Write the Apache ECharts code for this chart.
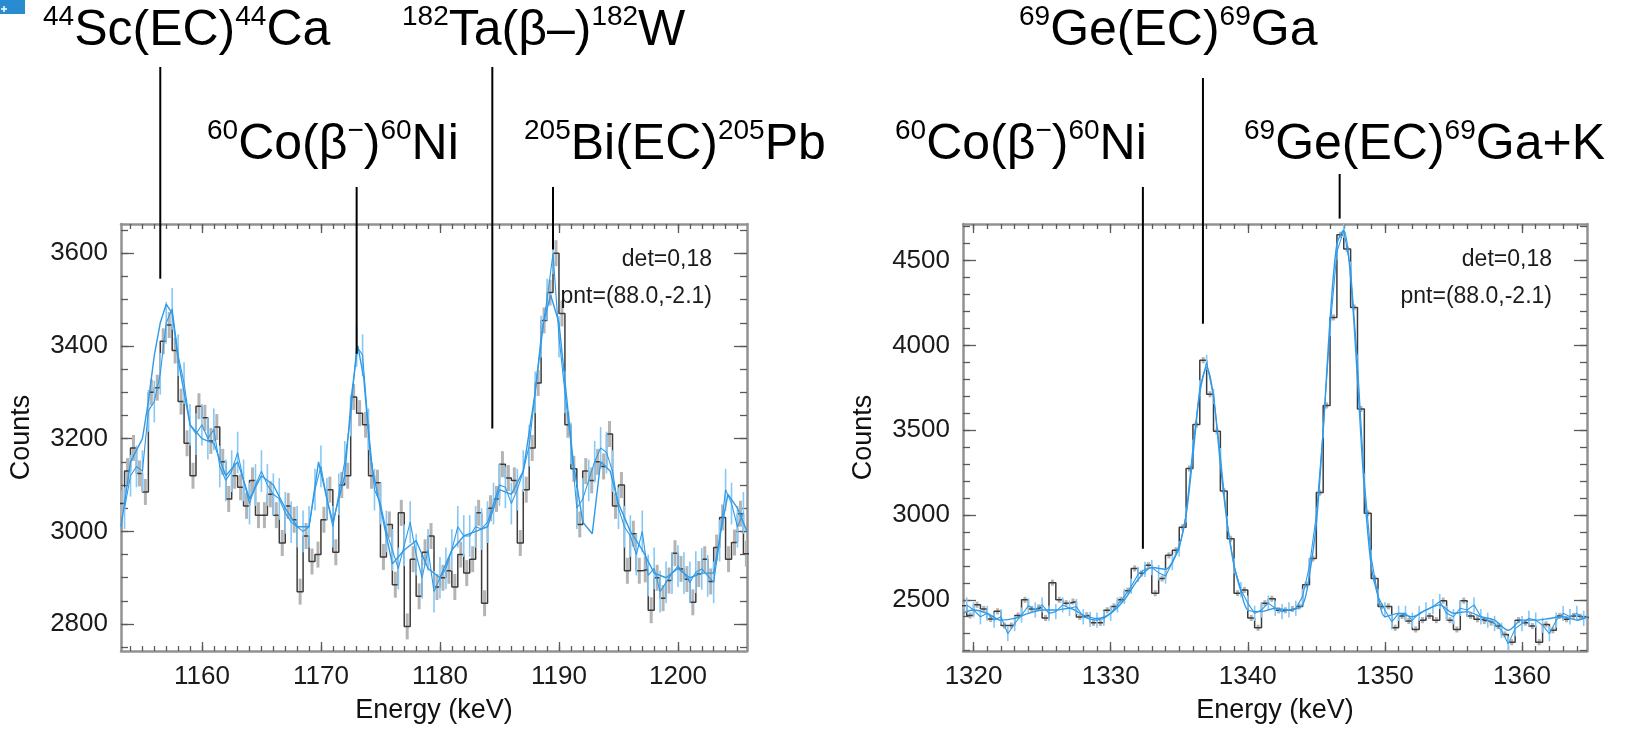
<!DOCTYPE html>
<html>
<head>
<meta charset="utf-8">
<title>SPI spectra</title>
<script src="https://cdn.jsdelivr.net/npm/echarts@6/dist/echarts.min.js"></script>
<style>
  html, body { margin: 0; padding: 0; background: #fff; }
  #chart { width: 1626px; height: 729px; }
</style>
</head>
<body>
<div id="chart"></div>
<script>
// ---- binning ----
const BIN = 0.5;

// ---- left panel: 1153-1206 keV ----
const L_X_RANGE = [1153.2, 1205.8];
const L_Y_RANGE = [2742, 3663];
const L_X_TICKS = [1160, 1170, 1180, 1190, 1200];
const L_Y_TICKS = [2800, 3000, 3200, 3400, 3600];
const L_X_MINOR = 1;
const L_Y_MINOR = 50;

// histogram counts, bin centres from 1153.25 keV
const L_HIST_START = 1153.25;
const L_HIST = [
  3060, 3130, 3180, 3125, 3085, 3300, 3310, 3410, 3445, 3390,
  3280, 3190, 3120, 3270, 3245, 3195, 3225, 3150, 3070, 3120,
  3095, 3055, 3110, 3035, 3035, 3080, 3035, 2975, 3055, 3025,
  2870, 2990, 2935, 2950, 3025, 3090, 2955, 3100, 3120, 3290,
  3255, 3230, 3120, 3105, 2945, 3015, 2885, 3040, 2795, 2940,
  2860, 2955, 2990, 2880, 2900, 2915, 2880, 2950, 2910, 2940,
  3040, 2845, 3050, 3070, 3145, 3115, 3110, 2975, 3090, 3180,
  3320, 3455, 3515, 3600, 3470, 3230, 3135, 3015, 3130, 3110,
  3150, 3140, 3210, 3055, 3100, 2915, 2995, 2915, 2918, 2830,
  2900, 2856, 2894, 2953, 2919, 2897, 2847, 2908, 2940, 2892,
  2965, 3030, 2940, 2976, 3038, 2952
];
const L_HIST_ERR = 28;

// finer spectrum with error bars, points from 1153.5 keV
const L_DATA_START = 1153.5;
const L_DATA = [
  3050, 3120, 3140, 3130, 3260, 3280, 3340, 3450, 3480, 3380,
  3320, 3230, 3210, 3230, 3200, 3220, 3140, 3110, 3130, 3170,
  3110, 3060, 3100, 3130, 3100, 3080, 3070, 3040, 3020, 3010,
  3000, 3010, 3090, 3140, 3070, 3010, 3080, 3150, 3250, 3400,
  3380, 3220, 3090, 3060, 3000, 2960, 2920, 2970,
  3020, 2950, 2900, 2960, 2870, 2900, 2920, 2960, 3010, 2990,
  2990, 3010, 3005, 3020, 3060, 3100, 3095, 3060, 3090, 3130,
  3185, 3300, 3420, 3500, 3600, 3420, 3300, 3190, 3050, 3070,
  3110, 3150, 3180, 3170, 3130, 3050, 3010, 2990, 2950, 3000,
  2905, 2920, 2870, 2890, 2910, 2925, 2910, 2890, 2912, 2919,
  2904, 2890, 2980, 3090, 3060, 3010, 3040
];
const L_DATA_ERR = 45;

// coarser trace [keV, counts]
const L_MODEL = [
  [1153.2, 3010], [1154, 3150], [1155, 3200], [1155.5, 3280], [1156, 3380],
  [1156.5, 3450], [1157, 3490], [1157.5, 3470], [1158, 3370], [1159, 3230],
  [1160, 3200], [1161, 3190], [1162, 3120], [1163, 3150], [1164, 3070],
  [1165, 3120], [1166, 3100], [1167, 3050], [1168, 3010], [1169, 3010],
  [1169.8, 3150], [1170.5, 3070], [1171, 3020], [1172, 3120], [1172.6, 3300],
  [1173.1, 3400], [1173.6, 3330], [1174.2, 3150], [1175, 3050], [1176, 2930],
  [1177, 2960], [1178, 2980], [1179, 2920], [1180, 2900], [1181, 2960],
  [1182, 2990], [1183, 3000], [1184, 3010], [1185, 3090], [1186, 3080],
  [1187, 3130], [1188, 3300], [1188.7, 3450], [1189.3, 3510], [1190, 3450],
  [1190.6, 3300], [1191.2, 3150], [1192, 3020], [1192.8, 2995], [1193.5, 3150],
  [1194.3, 3130], [1195, 3060], [1196, 3000], [1197, 2960], [1198, 2910],
  [1199, 2900], [1200, 2920], [1201, 2900], [1202, 2910], [1203, 2910],
  [1203.6, 3000], [1204.2, 3080], [1205, 3050], [1205.8, 3000]
];

// ---- right panel: 1319-1365 keV ----
const R_X_RANGE = [1319.23, 1364.74];
const R_Y_RANGE = [2198, 4716];
const R_X_TICKS = [1320, 1330, 1340, 1350, 1360];
const R_Y_TICKS = [2500, 3000, 3500, 4000, 4500];
const R_X_MINOR = 1;
const R_Y_MINOR = 100;

const R_HIST_START = 1319.25;
const R_HIST = [
  2465, 2407, 2471, 2446, 2387, 2432, 2348, 2348, 2407, 2500,
  2446, 2455, 2393, 2601, 2500, 2480, 2490, 2399, 2409, 2364,
  2364, 2438, 2461, 2500, 2554, 2685, 2656, 2704, 2539, 2625,
  2762, 2792, 2928, 3274, 3533, 3913, 3712, 3494, 3142, 2860,
  2539, 2558, 2393, 2335, 2480, 2506, 2438, 2438, 2446, 2461,
  2588, 2743, 3132, 3646, 4165, 4652, 4568, 4224, 3625, 3010,
  2626, 2461, 2461, 2335, 2405, 2375, 2325, 2380, 2405, 2380,
  2495, 2380, 2325, 2495, 2405, 2385, 2375, 2365, 2345, 2296,
  2250, 2380, 2365, 2345, 2250, 2355, 2320, 2405, 2385, 2405,
  2400, 2395
];
const R_HIST_ERR = 18;

const R_DATA_START = 1319.5;
const R_DATA = [
  2470, 2440, 2400, 2420, 2380, 2400, 2300, 2360, 2410, 2465,
  2440, 2470, 2420, 2430, 2470, 2450, 2460, 2400, 2385, 2380,
  2390, 2420, 2470, 2520, 2580, 2650, 2680, 2690, 2660, 2640,
  2720, 2800, 3000, 3400, 3750, 3900, 3700, 3350, 2950, 2700,
  2560, 2480, 2420, 2440, 2480, 2450, 2430, 2440, 2450, 2520,
  2700, 3000, 3500, 4100, 4550, 4680, 4450, 3900, 3200, 2750,
  2520, 2440, 2370, 2420, 2420, 2380, 2420, 2440, 2460, 2490,
  2420, 2400, 2450, 2440, 2470, 2400, 2380, 2360, 2320, 2240,
  2330, 2360, 2390, 2380, 2350, 2300, 2380, 2420, 2400, 2420,
  2390
];
const R_DATA_ERR = 45;

const R_MODEL = [
  [1319.2, 2420], [1320, 2440], [1321, 2420], [1322, 2380], [1323, 2390],
  [1324, 2420], [1325, 2440], [1326, 2440], [1327, 2450], [1328, 2410],
  [1329, 2390], [1330, 2420], [1331, 2500], [1332, 2620], [1333, 2690],
  [1334, 2680], [1335, 2820], [1335.5, 3000], [1336, 3350], [1336.5, 3720],
  [1337, 3870], [1337.5, 3700], [1338, 3300], [1338.5, 2950], [1339, 2700],
  [1339.5, 2550], [1340, 2440], [1341, 2430], [1342, 2450], [1343, 2440],
  [1344, 2470], [1344.5, 2650], [1345, 2950], [1345.5, 3500], [1346, 4150],
  [1346.5, 4600], [1347, 4680], [1347.5, 4400], [1348, 3800], [1348.5, 3150],
  [1349, 2700], [1349.5, 2520], [1350, 2400], [1351, 2420], [1352, 2400],
  [1353, 2440], [1354, 2470], [1355, 2420], [1356, 2430], [1357, 2400],
  [1358, 2380], [1359, 2320], [1360, 2380], [1361, 2380], [1362, 2390],
  [1363, 2400], [1364, 2380], [1364.8, 2400]
];

// ---- line identifications: panel, energy (keV), label-line top (px), line end (counts) ----
const LINE_MARKS = [
  { panel: 0, energy: 1156.5, top: 67,  end: 3545 },
  { panel: 0, energy: 1173.0, top: 187, end: 3383 },
  { panel: 0, energy: 1184.4, top: 67,  end: 3222 },
  { panel: 0, energy: 1189.5, top: 187, end: 3608 },
  { panel: 1, energy: 1332.35, top: 187, end: 2801 },
  { panel: 1, energy: 1336.73, top: 78,  end: 4128 },
  { panel: 1, energy: 1346.7, top: 174, end: 4748 }
];

const LINE_LABELS = [
  { text: '{s|44}{m|Sc(EC)}{s|44}{m|Ca}',            x: 43,   y: 3 },
  { text: '{s|182}{m|Ta(β–)}{s|182}{m|W}',           x: 402,  y: 3 },
  { text: '{s|60}{m|Co(β}{s|−}{m|)}{s|60}{m|Ni}',    x: 207,  y: 117 },
  { text: '{s|205}{m|Bi(EC)}{s|205}{m|Pb}',          x: 524,  y: 117 },
  { text: '{s|69}{m|Ge(EC)}{s|69}{m|Ga}',            x: 1019, y: 3 },
  { text: '{s|60}{m|Co(β}{s|−}{m|)}{s|60}{m|Ni}',    x: 895,  y: 117 },
  { text: '{s|69}{m|Ge(EC)}{s|69}{m|Ga+K}',          x: 1244, y: 117 }
];

const INFO_LINES = ['det=0,18', 'pnt=(88.0,-2.1)'];

// ---- styling ----
const FONT = "'Liberation Sans', Arial, Helvetica, sans-serif";
const FRAME = '#929292';
const TICK = '#5a5a5a';
const HIST_COLOR = '#3c3c3c';
const HIST_ERR_COLOR = '#b4b4b4';
const BLUE = '#2f9ae8';
const BLUE_ERR = '#86c8f6';

function minorValues(range, step) {
  const out = [];
  for (let v = Math.ceil(range[0] / step) * step; v <= range[1]; v += step) out.push(v);
  return out;
}

function histEdges(start, counts) {
  const pts = counts.map((c, i) => [start - BIN / 2 + i * BIN, c]);
  pts.push([start + BIN / 2 + (counts.length - 1) * BIN, counts[counts.length - 1]]);
  return pts;
}
function points(start, counts) {
  return counts.map((c, i) => [start + i * BIN, c]);
}

function errorBar(err, color, width) {
  return function (params, api) {
    const x = api.value(0), y = api.value(1);
    const a = api.coord([x, y - err]);
    const b = api.coord([x, y + err]);
    return {
      type: 'line',
      shape: { x1: a[0], y1: a[1], x2: b[0], y2: b[1] },
      style: { stroke: color, lineWidth: width }
    };
  };
}

function buildAxes(g, xr, yr, xt, xm, yt, ym, showYName) {
  const frame = { show: true, onZero: false, lineStyle: { color: FRAME, width: 2.5 } };
  const none = { show: false, onZero: false };
  const tick = (vals, len) => ({ show: true, inside: true, length: len, customValues: vals,
                                 lineStyle: { color: TICK, width: 1.3 } });
  const lab = (vals, margin) => ({ show: true, customValues: vals, margin: margin, fontSize: 26,
                                   color: '#1a1a1a', fontFamily: FONT, formatter: v => String(v) });
  const base = (pos, range) => ({ gridIndex: g, type: 'value', position: pos, min: range[0], max: range[1],
                                  splitLine: { show: false }, axisLabel: { show: false } });
  const nameStyle = { fontSize: 27, color: '#111', fontFamily: FONT };
  const x = [
    Object.assign(base('bottom', xr), { axisLine: frame, axisTick: tick(xt, 9), axisLabel: lab(xt, 13),
      name: 'Energy (keV)', nameLocation: 'middle', nameGap: 46, nameTextStyle: nameStyle }),
    Object.assign(base('bottom', xr), { axisLine: none, axisTick: tick(xm, 5) }),
    Object.assign(base('top', xr), { axisLine: frame, axisTick: tick(xt, 9) }),
    Object.assign(base('top', xr), { axisLine: none, axisTick: tick(xm, 5) })
  ];
  const y = [
    Object.assign(base('left', yr), { axisLine: frame, axisTick: tick(yt, 13), axisLabel: lab(yt, 13),
      name: showYName ? 'Counts' : '', nameLocation: 'middle', nameGap: 86, nameTextStyle: nameStyle }),
    Object.assign(base('left', yr), { axisLine: none, axisTick: tick(ym, 7) }),
    Object.assign(base('right', yr), { axisLine: frame, axisTick: tick(yt, 13) }),
    Object.assign(base('right', yr), { axisLine: none, axisTick: tick(ym, 7) })
  ];
  return { x, y };
}

function panelSeries(ax, hStart, hist, hErr, dStart, data, dErr, model, modelSmooth) {
  const common = { xAxisIndex: ax, yAxisIndex: ax };
  return [
    Object.assign({ type: 'custom', coordinateSystem: 'cartesian2d', clip: true, z: 1,
      renderItem: errorBar(hErr, HIST_ERR_COLOR, 3), data: points(hStart, hist) }, common),
    Object.assign({ type: 'line', step: 'end', symbol: 'none', clip: true, z: 2,
      lineStyle: { color: HIST_COLOR, width: 1.5 }, data: histEdges(hStart, hist) }, common),
    Object.assign({ type: 'custom', coordinateSystem: 'cartesian2d', clip: true, z: 3,
      renderItem: errorBar(dErr, BLUE_ERR, 1.6), data: points(dStart, data) }, common),
    Object.assign({ type: 'line', symbol: 'none', clip: true, z: 4,
      lineStyle: { color: BLUE, width: 1.1 }, data: points(dStart, data) }, common),
    Object.assign({ type: 'line', symbol: 'none', clip: true, z: 4, smooth: modelSmooth,
      lineStyle: { color: BLUE, width: 1.4 }, data: model }, common)
  ];
}

const chart = echarts.init(document.getElementById('chart'), null, { renderer: 'canvas' });

const axL = buildAxes(0, L_X_RANGE, L_Y_RANGE, L_X_TICKS, minorValues(L_X_RANGE, L_X_MINOR),
                      L_Y_TICKS, minorValues(L_Y_RANGE, L_Y_MINOR), true);
const axR = buildAxes(1, R_X_RANGE, R_Y_RANGE, R_X_TICKS, minorValues(R_X_RANGE, R_X_MINOR),
                      R_Y_TICKS, minorValues(R_Y_RANGE, R_Y_MINOR), true);

chart.setOption({
  animation: false,
  backgroundColor: '#fff',
  grid: [
    { left: 121, top: 224, width: 626, height: 431 },
    { left: 963, top: 224, width: 624, height: 431 }
  ],
  xAxis: axL.x.concat(axR.x),
  yAxis: axL.y.concat(axR.y),
  series: panelSeries(0, L_HIST_START, L_HIST, L_HIST_ERR, L_DATA_START, L_DATA, L_DATA_ERR, L_MODEL, false)
    .concat(panelSeries(4, R_HIST_START, R_HIST, R_HIST_ERR, R_DATA_START, R_DATA, R_DATA_ERR, R_MODEL, 0.3))
});

// identification lines, labels and detector info
const graphics = [];
LINE_MARKS.forEach(function (m) {
  const idx = m.panel * 4;
  const x = chart.convertToPixel({ xAxisIndex: idx }, m.energy);
  const y2 = chart.convertToPixel({ yAxisIndex: idx }, m.end);
  graphics.push({ type: 'line', z: 100,
    shape: { x1: x, y1: m.top, x2: x, y2: y2 },
    style: { stroke: '#000', lineWidth: 2 } });
});
LINE_LABELS.forEach(function (l) {
  graphics.push({ type: 'text', z: 100, x: l.x, y: l.y,
    style: { text: l.text, align: 'left', verticalAlign: 'top', textAlign: 'left', textVerticalAlign: 'top',
      fill: '#000',
      rich: {
        m: { fontSize: 50, lineHeight: 56, fontFamily: FONT, fill: '#000', color: '#000' },
        s: { fontSize: 28, lineHeight: 40, verticalAlign: 'top', fontFamily: FONT, fill: '#000', color: '#000' }
      } } });
});
[0, 1].forEach(function (p) {
  const idx = p * 4;
  const right = chart.convertToPixel({ xAxisIndex: idx }, p === 0 ? L_X_RANGE[1] : R_X_RANGE[1]) - 35;
  INFO_LINES.forEach(function (t, i) {
    graphics.push({ type: 'text', z: 100, x: right, y: 260 + i * 37,
      style: { text: t, align: 'right', verticalAlign: 'middle', textAlign: 'right', textVerticalAlign: 'middle',
        fontSize: 23, fontFamily: FONT, fill: '#1a1a1a' } });
  });
});
// small badge in the corner
graphics.push({ type: 'rect', z: 100, shape: { x: 0, y: 0, width: 25, height: 14 }, style: { fill: '#2a8cd0' } });
graphics.push({ type: 'line', z: 101, shape: { x1: 1, y1: 9, x2: 7, y2: 9 }, style: { stroke: '#fff', lineWidth: 1.5 } });
graphics.push({ type: 'line', z: 101, shape: { x1: 4, y1: 6, x2: 4, y2: 12 }, style: { stroke: '#fff', lineWidth: 1.5 } });

chart.setOption({ graphic: graphics });
</script>
</body>
</html>
